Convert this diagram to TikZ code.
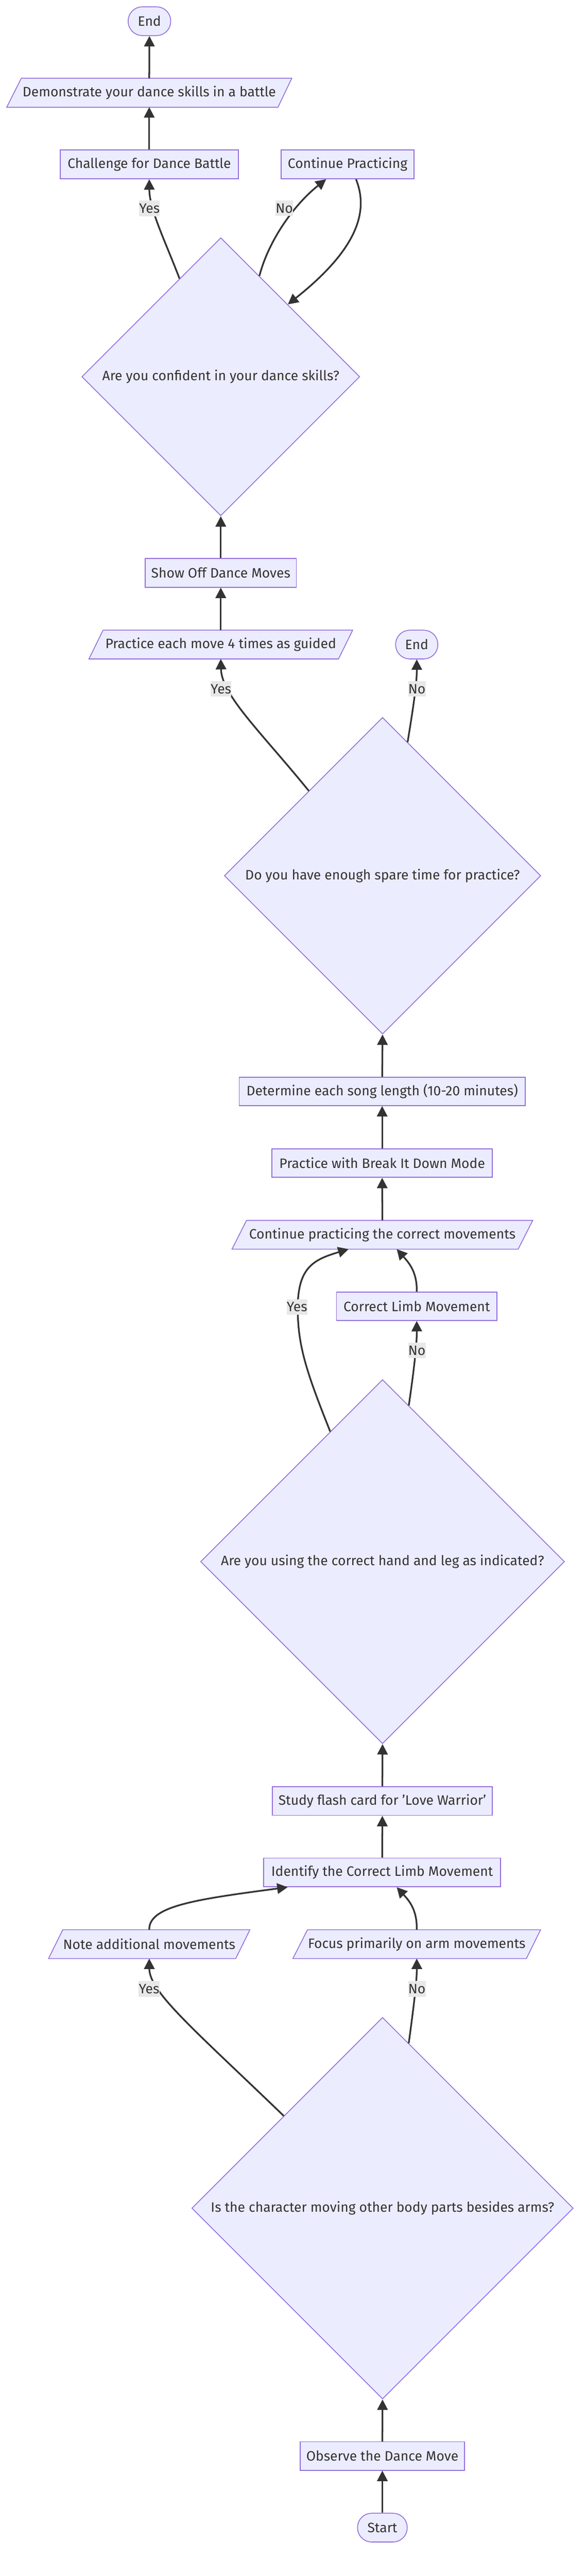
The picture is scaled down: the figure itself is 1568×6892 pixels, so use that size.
\documentclass[tikz,border=0pt]{standalone}
\usepackage{fontspec}
\setmainfont{Fira Sans}
\usetikzlibrary{arrows.meta,shapes.geometric,calc}
\definecolor{nfill}{HTML}{ECECFF}
\definecolor{nstroke}{HTML}{9370DB}
\definecolor{ink}{HTML}{333333}
\definecolor{lblbg}{HTML}{E8E8E8}
\newlength\calw
\begin{document}
\settowidth\calw{\fontsize{10pt}{12pt}\selectfont Practice each move 4 times as guided}%
\pgfmathsetmacro\fsz{10*618/\calw}%
\begin{tikzpicture}[x=1pt,y=-1pt]
\tikzset{
  every node/.style={font=\fontsize{\fsz pt}{\fsz pt}\selectfont, text=ink},
  box/.style={rectangle, draw=nstroke, fill=nfill, line width=2.2pt, inner sep=0pt, minimum height=77pt},
  stad/.style={box, rounded corners=38pt},
  dia/.style={diamond, aspect=1, draw=nstroke, fill=nfill, line width=2.2pt, inner sep=0pt},
  pshape/.style={draw=nstroke, fill=nfill, line width=2.2pt, line join=miter},
  ptext/.style={rectangle, inner sep=0pt, outer sep=0pt, minimum height=77pt},
  conn/.style={draw=ink, line width=4.5pt, -{Triangle[length=28pt,width=28pt]}},
  elabel/.style={fill=lblbg, inner xsep=0.5pt, inner ysep=0pt, minimum height=42pt}
}
\useasboundingbox (0,0) rectangle (1568,6892);

% ---------- nodes ----------
\node[stad, minimum width=114pt] (end1) at (400,56.7) {End};
\path[pshape] (57,209.4) -- (781,209.4) -- (744,287) -- (18,287) -- cycle;
\node[ptext, minimum width=724pt] (demo) at (399.5,248.2) {Demonstrate your dance skills in a battle};
\node[box, minimum width=477pt] (chal) at (399.5,440) {Challenge for Dance Battle};
\node[box, minimum width=355pt] (cont) at (930.5,440) {Continue Practicing};
\node[dia, minimum width=744pt, minimum height=744pt] (conf) at (591,1008) {Are you confident in your dance skills?};
\node[box, minimum width=404pt] (show) at (591,1532.5) {Show Off Dance Moves};
\path[pshape] (276,1686) -- (944,1686) -- (906,1763) -- (238,1763) -- cycle;
\node[ptext, minimum width=668pt] (prac) at (591,1724.5) {Practice each move 4 times as guided};
\node[stad, minimum width=113pt] (end2) at (1115.5,1724.5) {End};
\node[dia, minimum width=847pt, minimum height=847pt] (spare) at (1024,2343) {Do you have enough spare time for practice?};
\node[box, minimum width=766pt, minimum height=76pt] (det) at (1023,2920) {Determine each song length (10-20 minutes)};
\node[box, minimum width=590pt, minimum height=76pt] (brk) at (1023,3112) {Practice with Break It Down Mode};
\path[pshape] (660,3265) -- (1426,3265) -- (1387,3342) -- (621,3342) -- cycle;
\node[ptext, minimum width=766pt] (contc) at (1023.5,3303.5) {Continue practicing the correct movements};
\node[box, minimum width=429pt, minimum height=76pt] (climb) at (1115.5,3495) {Correct Limb Movement};
\node[dia, minimum width=974pt, minimum height=974pt] (hand) at (1024,4178) {Are you using the correct hand and leg as indicated?};
\node[box, minimum width=589pt] (study) at (1023.5,4818.5) {Study flash card for 'Love Warrior'};
\node[box, minimum width=634pt] (ident) at (1023,5009.5) {Identify the Correct Limb Movement};
\path[pshape] (168,5163) -- (669,5163) -- (631,5240) -- (130,5240) -- cycle;
\node[ptext, minimum width=501pt] (note) at (399.5,5201.5) {Note additional movements};
\path[pshape] (823,5163) -- (1447,5163) -- (1409,5240) -- (784,5240) -- cycle;
\node[ptext, minimum width=624pt] (focus) at (1115.5,5201.5) {Focus primarily on arm movements};
\node[dia, minimum width=1021pt, minimum height=1021pt] (body) at (1024,5908) {Is the character moving other body parts besides arms?};
\node[box, minimum width=439pt, minimum height=76pt] (obs) at (1023.5,6571) {Observe the Dance Move};
\node[stad, minimum width=133pt] (start) at (1023.5,6762.5) {Start};

% ---------- connectors ----------
\draw[conn] (start.north) -- (obs.south);
\draw[conn] (obs.north) -- (body.south);
\draw[conn] ($(body.north)!0.517!(body.west)$) .. controls (520,5430) and (400,5330) .. (note.south);
\draw[conn] ($(body.north)!0.137!(body.east)$) .. controls (1106,5380) and (1116,5300) .. (focus.south);
\draw[conn] (note.north) .. controls (398,5100) and (520,5082) .. ([xshift=-253pt]ident.south);
\draw[conn] (focus.north) .. controls (1117,5110) and (1095,5085) .. ([xshift=39pt]ident.south);
\draw[conn] (ident.north) -- (study.south);
\draw[conn] (study.north) -- (hand.south);
\draw[conn] ($(hand.north)!0.287!(hand.west)$) .. controls (820,3670) and (797,3600) .. (797,3500) .. controls (797,3390) and (840,3370) .. ([xshift=-90.5pt]contc.south);
\draw[conn] ($(hand.north)!0.144!(hand.east)$) .. controls (1106,3680) and (1116,3600) .. (climb.south);
\draw[conn] (climb.north) .. controls (1117,3404) and (1095,3379) .. ([xshift=38.5pt]contc.south);
\draw[conn] (contc.north) -- (brk.south);
\draw[conn] (brk.north) -- (det.south);
\draw[conn] (det.north) -- (spare.south);
\draw[conn] ($(spare.north)!0.465!(spare.west)$) .. controls (700,1960) and (593,1860) .. (prac.south);
\draw[conn] ($(spare.north)!0.158!(spare.east)$) .. controls (1105,1900) and (1116,1830) .. (end2.south);
\draw[conn] (prac.north) -- (show.south);
\draw[conn] (show.north) -- (conf.south);
\draw[conn] ($(conf.north)!0.296!(conf.west)$) .. controls (440,640) and (400,560) .. (chal.south);
\draw[conn] ($(conf.north)!0.277!(conf.east)$) .. controls (720,640) and (790,545) .. ([xshift=-57.5pt]cont.south);
\draw[conn] ([xshift=22.5pt]cont.south) .. controls (985,560) and (965,660) .. ($(conf.north)!0.481!(conf.east)$);
\draw[conn] (chal.north) -- (demo.south);
\draw[conn] (demo.north) -- (end1.south);

% ---------- edge labels ----------
\node[elabel] (l1) at (400,557.6) {Yes};
\node[elabel] (l2) at (761,557) {No};
\node[elabel] (l3) at (591.5,1843) {Yes};
\node[elabel] (l4) at (1116,1843) {No};
\node[elabel] (l5) at (795,3497) {Yes};
\node[elabel] (l6) at (1116,3613) {No};
\node[elabel] (l7) at (399,5321) {Yes};
\node[elabel] (l8) at (1116,5321) {No};
\end{tikzpicture}
\end{document}
